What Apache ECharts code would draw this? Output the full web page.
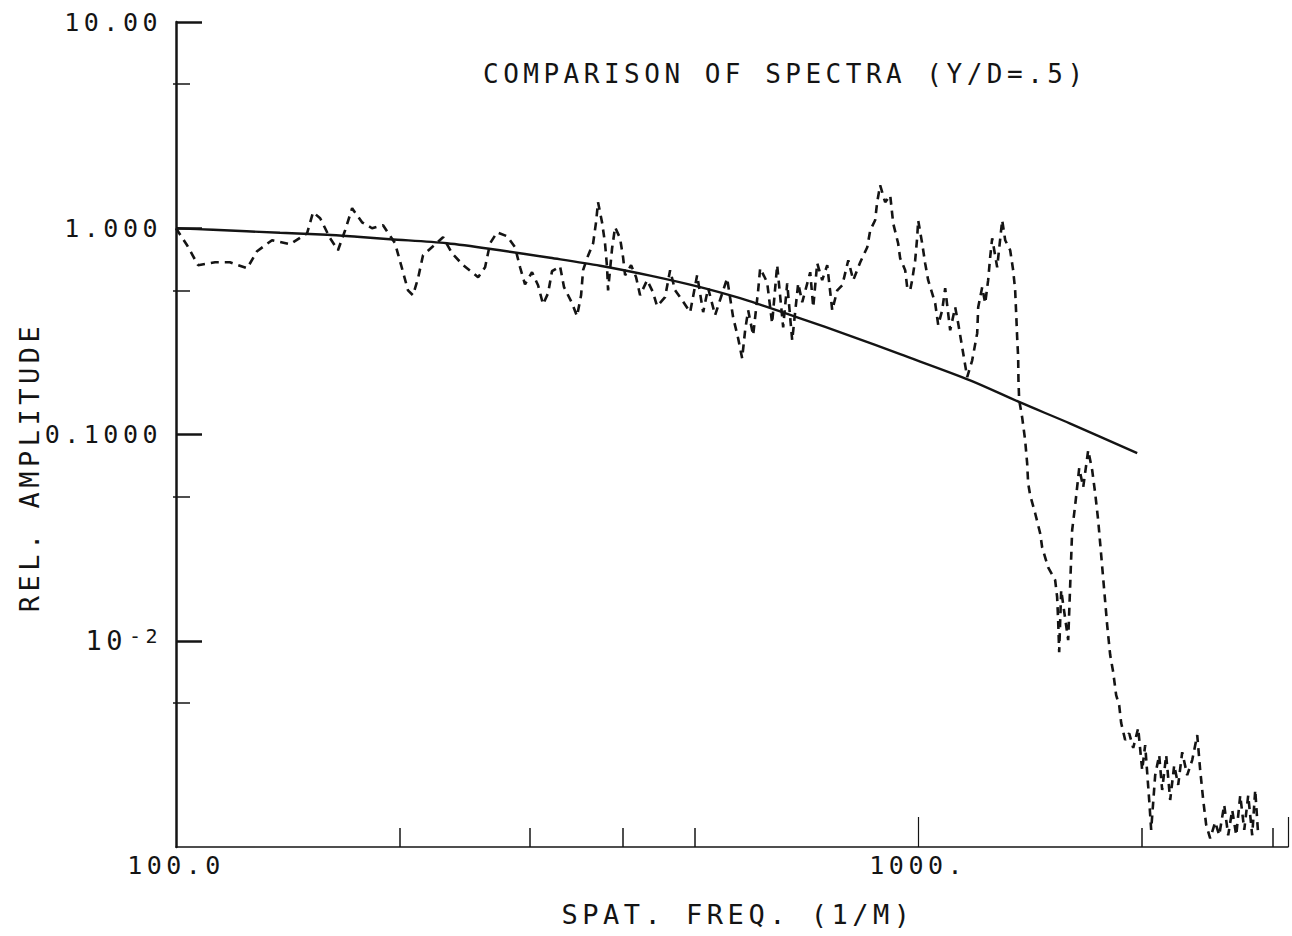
<!DOCTYPE html>
<html>
<head>
<meta charset="utf-8">
<script src="https://cdn.jsdelivr.net/npm/echarts@6/dist/echarts.min.js"></script>
<style>
  html, body { margin: 0; padding: 0; background: #fff; }
  #chart { width: 1292px; height: 936px; letter-spacing: 4.5px; }
</style>
</head>
<body>
<div id="chart"></div>
<script>
// ---- data ----
const titleText = 'COMPARISON OF SPECTRA (Y/D=.5)';
const xAxisName = 'SPAT. FREQ. (1/M)';
const yAxisName = 'REL. AMPLITUDE';

const xTickLabels = { 100: '100.0', 1000: '1000.' };
const yTickLabels = { 1: '10.00', 0: '1.000', '-1': '0.1000', '-2': '{b|10}{s|-2}' };

const theoryFreq = [100, 112.2, 138.1, 159.8, 175.4, 194.2, 231.8, 273.3, 319.2, 372.8, 435.4, 508.5, 575.5, 612.4, 693.4, 809.7, 945.6, 1175, 1372, 1603, 1973];
const theoryAmp  = [1.0, 0.983, 0.951, 0.930, 0.909, 0.885, 0.846, 0.782, 0.719, 0.658, 0.589, 0.518, 0.458, 0.426, 0.366, 0.301, 0.245, 0.183, 0.143, 0.113, 0.0812];

const measFreq = [
  100, 103.5, 107.1, 112.9, 118.2, 124.7, 128.6, 134.7, 142.4, 150.2,
  153.0, 156.4, 161.3, 165.3, 169.0, 172.7, 178.1, 183.7, 190.1, 197.3,
  201.6, 205.4, 208.6, 211.9, 215.2, 222.0, 229.0, 235.5, 243.7, 255.3,
  260.9, 265.0, 270.8, 279.3, 286.3, 290.8, 295.3, 301.8, 307.5, 312.3,
  317.2, 321.1, 329.2, 333.3, 341.7, 347.0, 351.4, 353.6, 358.0, 364.8,
  368.1, 370.4, 375.0, 378.5, 380.9, 382.1, 386.9, 390.5, 396.6, 400.3,
  402.8, 410.4, 416.8, 422.0, 431.3, 439.3, 444.8, 456.0, 463.2, 470.4,
  480.8, 492.9, 503.7, 513.2, 521.2, 532.6, 552.8, 563.2, 572.0, 579.2,
  584.6, 590.1, 599.3, 608.7, 612.5, 625.9, 635.6, 645.7, 657.8, 666.1,
  676.5, 689.2, 697.9, 715.4, 722.1, 731.1, 742.5, 754.2, 766.0, 777.9,
  790.2, 805.1, 817.6, 835.5, 853.9, 861.8, 875.0, 880.5, 888.8, 902.7,
  916.9, 925.4, 939.7, 945.6, 960.5, 966.5, 975.5, 981.5, 990.8, 997.0,
  1000, 1012.4, 1021.9, 1031.5, 1054.2, 1064.2, 1077.3, 1087.4, 1104.4, 1121.7,
  1132.2, 1146.3, 1164.2, 1182.5, 1201.0, 1204.7, 1219.8, 1231.1, 1242.5, 1250.3,
  1258.1, 1277.8, 1297.8, 1310.0, 1330.4, 1342.7, 1351.1, 1355.3, 1359.5, 1363.7,
  1365, 1368.0, 1380.8, 1393.6, 1402.3, 1406.6, 1415.4, 1437.6, 1460.0, 1469.1,
  1496.7, 1529.5, 1539.0, 1543.8, 1548.8, 1558.5, 1592.7, 1602.6, 1612.5, 1627.6,
  1648.1, 1668.7, 1694.7, 1715.9, 1731.8, 1748.0, 1764.4, 1781.0, 1797.5, 1814.4,
  1831.3, 1848.2, 1865.7, 1877.3, 1900.7, 1924.5, 1948.6, 1979.0, 2003.7, 2022.4,
  2047.7, 2060.4, 2086.2, 2112.3, 2131.9, 2158.6, 2185.6, 2213.0, 2240.6, 2268.6,
  2304.1, 2340.2, 2376.9, 2398.8, 2421.4, 2443.8, 2474.4, 2513.3, 2544.7, 2584.3,
  2616.6, 2649.4, 2682.6, 2716.1, 2750.3, 2784.2, 2818.9, 2845.5, 2871.9
];
const measAmp = [
  1.0, 0.827, 0.662, 0.684, 0.684, 0.640, 0.774, 0.875, 0.836, 0.946,
  1.196, 1.118, 0.894, 0.782, 0.978, 1.250, 1.069, 1.0, 1.034, 0.846,
  0.640, 0.500, 0.473, 0.572, 0.740, 0.818, 0.905, 0.756, 0.662, 0.579,
  0.647, 0.846, 0.956, 0.915, 0.809, 0.647, 0.535, 0.612, 0.529, 0.428,
  0.484, 0.619, 0.654, 0.518, 0.433, 0.375, 0.473, 0.626, 0.716, 0.846,
  1.069, 1.337, 1.069, 0.846, 0.647, 0.500, 0.800, 1.011, 0.894, 0.724,
  0.592, 0.662, 0.579, 0.473, 0.560, 0.489, 0.419, 0.463, 0.626, 0.500,
  0.448, 0.392, 0.592, 0.392, 0.512, 0.379, 0.572, 0.370, 0.293, 0.234,
  0.320, 0.400, 0.303, 0.500, 0.640, 0.547, 0.346, 0.662, 0.331, 0.541,
  0.286, 0.541, 0.438, 0.612, 0.414, 0.677, 0.560, 0.662, 0.400, 0.500,
  0.529, 0.700, 0.560, 0.684, 0.809, 0.978, 1.093, 1.337, 1.616, 1.337,
  1.445, 1.057, 0.846, 0.716, 0.626, 0.518, 0.500, 0.560, 0.700, 0.905,
  1.093, 0.846, 0.677, 0.560, 0.433, 0.339, 0.400, 0.512, 0.320, 0.414,
  0.346, 0.265, 0.190, 0.229, 0.310, 0.414, 0.518, 0.433, 0.560, 0.724,
  0.894, 0.647, 1.093, 0.875, 0.782, 0.626, 0.500, 0.387, 0.296, 0.237,
  0.183, 0.147, 0.121, 0.0938, 0.0726, 0.0581, 0.0508, 0.0415, 0.0332, 0.0284,
  0.0227, 0.0197, 0.0163, 0.0126, 0.00881, 0.0176, 0.01007, 0.0186, 0.0344, 0.0454,
  0.0687, 0.0555, 0.0839, 0.0671, 0.0519, 0.0384, 0.0260, 0.0176, 0.0119, 0.00852,
  0.00705, 0.00545, 0.00487, 0.00399, 0.00330, 0.00356, 0.00302, 0.00377, 0.00236, 0.00312,
  0.00169, 0.00121, 0.00223, 0.00279, 0.00189, 0.00279, 0.00169, 0.00249, 0.00200, 0.00288,
  0.00223, 0.00264, 0.00349, 0.00236, 0.00169, 0.00128, 0.00110, 0.00132, 0.00114, 0.00160,
  0.00114, 0.00151, 0.00114, 0.00178, 0.00121, 0.00178, 0.00114, 0.00189, 0.00114
];

const xMin = 100, xMax = 3150;
const yMin = 0.001, yMax = 10;
const xMinorTicks = [200, 300, 400, 500, 2000, 3000];
const xMajorTicks = [1000, 3150];
const yMajorTicks = [10, 1, 0.1, 0.01];
const yMinorTicks = [5, 0.5, 0.05, 0.005];

// ---- chart ----
const FONT = '"DejaVu Sans Mono", "Liberation Mono", monospace';
const INK = '#141414';
const zip = (a, b) => a.map((v, i) => [v, b[i]]);

const chart = echarts.init(document.getElementById('chart'), null, { renderer: 'svg' });

const baseX = { type: 'log', logBase: 10, min: xMin, max: xMax, splitLine: { show: false }, minorTick: { show: false } };
const baseY = { type: 'log', logBase: 10, min: yMin, max: yMax, splitLine: { show: false }, minorTick: { show: false } };

chart.setOption({
  animation: false,
  backgroundColor: '#fff',
  title: {
    text: titleText, left: 478, top: 56,
    textStyle: { fontFamily: FONT, fontSize: 26, fontWeight: 'normal', color: INK }
  },
  grid: { left: 176, right: 4, top: 22, bottom: 89, containLabel: false },
  xAxis: [
    Object.assign({}, baseX, {
      position: 'bottom',
      name: xAxisName, nameLocation: 'middle', nameGap: 54,
      nameTextStyle: { fontFamily: FONT, fontSize: 27, color: INK, padding: [0, 0, 0, 12] },
      axisLine: { show: true, lineStyle: { color: INK, width: 1.5 } },
      axisTick: { show: true, inside: true, length: 19, customValues: xMinorTicks, lineStyle: { color: INK, width: 1.5 } },
      axisLabel: {
        show: true, customValues: [100, 1000], margin: 6,
        fontFamily: FONT, fontSize: 25, color: INK,
        formatter: v => xTickLabels[Math.round(v)] || ''
      }
    }),
    Object.assign({}, baseX, {
      position: 'bottom',
      axisLine: { show: false },
      axisTick: { show: true, inside: true, length: 30, customValues: xMajorTicks, lineStyle: { color: INK, width: 1.2 } },
      axisLabel: { show: false }
    })
  ],
  yAxis: [
    Object.assign({}, baseY, {
      position: 'left',
      axisLine: { show: true, lineStyle: { color: INK, width: 2.5 } },
      axisTick: { show: true, inside: true, length: 26, customValues: yMajorTicks, lineStyle: { color: INK, width: 2.5 } },
      axisLabel: {
        show: true, customValues: yMajorTicks, margin: 14,
        fontFamily: FONT, fontSize: 25, color: INK,
        formatter: v => yTickLabels[Math.round(Math.log10(v))] || '',
        rich: {
          b: { fontFamily: FONT, fontSize: 27, lineHeight: 30, color: INK },
          s: { fontFamily: FONT, fontSize: 20, lineHeight: 16, verticalAlign: 'top', padding: [0, 0, 0, 11], color: INK }
        }
      }
    }),
    Object.assign({}, baseY, {
      position: 'left', offset: 3,
      axisLine: { show: false },
      axisTick: { show: true, inside: true, length: 17, customValues: yMinorTicks, lineStyle: { color: INK, width: 1.5 } },
      axisLabel: { show: false }
    })
  ],
  graphic: [{
    type: 'text', rotation: Math.PI / 2,
    x: 29, y: 467,
    style: { text: yAxisName, font: '27px ' + FONT, fill: INK, textAlign: 'center', textVerticalAlign: 'middle' }
  }],
  series: [
    {
      name: 'measured', type: 'line', xAxisIndex: 0, yAxisIndex: 0,
      data: zip(measFreq, measAmp), showSymbol: false, symbol: 'none',
      lineStyle: { color: INK, width: 2.6, type: [8, 6] }
    },
    {
      name: 'theory', type: 'line', xAxisIndex: 0, yAxisIndex: 0,
      data: zip(theoryFreq, theoryAmp), showSymbol: false, symbol: 'none', smooth: 0.3,
      lineStyle: { color: INK, width: 2.4 }
    }
  ]
});
</script>
</body>
</html>
